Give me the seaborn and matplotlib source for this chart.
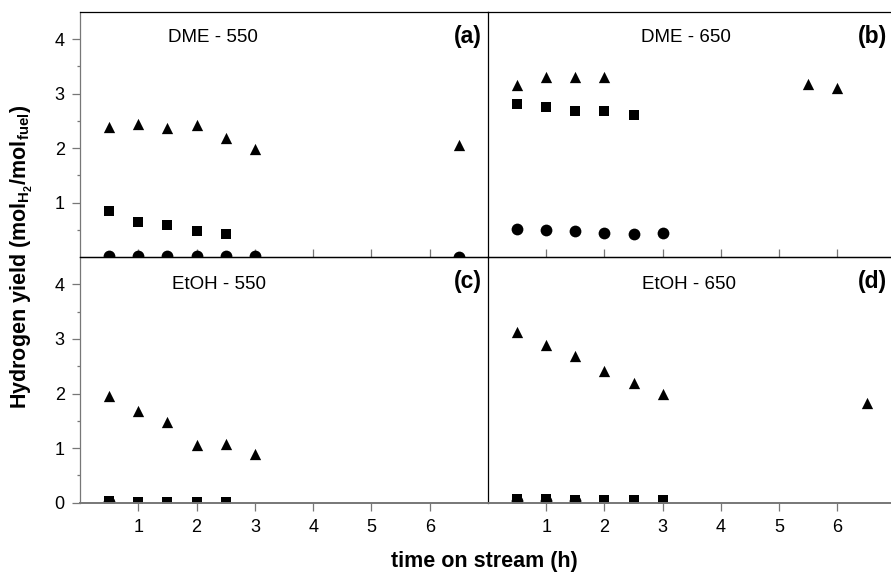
import matplotlib
matplotlib.use("Agg")
import matplotlib.pyplot as plt
import seaborn as sns
import pandas as pd

# panel (a) DME - 550
a_time_tri = [0.5, 1, 1.5, 2, 2.5, 3, 6.5]
a_tri = [2.38, 2.44, 2.37, 2.42, 2.18, 1.99, 2.06]
a_time_sq = [0.5, 1, 1.5, 2, 2.5]
a_sq = [0.84, 0.64, 0.58, 0.48, 0.43]
a_time_ci = [0.5, 1, 1.5, 2, 2.5, 3, 6.5]
a_ci = [0.01, 0.01, 0.01, 0.01, 0.01, 0.01, 0.0]

# panel (b) DME - 650
b_time_tri = [0.5, 1, 1.5, 2, 5.5, 6]
b_tri = [3.16, 3.30, 3.30, 3.30, 3.18, 3.10]
b_time_sq = [0.5, 1, 1.5, 2, 2.5]
b_sq = [2.81, 2.76, 2.69, 2.68, 2.60]
b_time_ci = [0.5, 1, 1.5, 2, 2.5, 3]
b_ci = [0.52, 0.50, 0.48, 0.45, 0.43, 0.44]

# panel (c) EtOH - 550
c_time_tri = [0.5, 1, 1.5, 2, 2.5, 3]
c_tri = [1.95, 1.68, 1.47, 1.06, 1.07, 0.90]
c_time_sq = [0.5, 1, 1.5, 2, 2.5]
c_sq = [0.03, 0.02, 0.02, 0.02, 0.02]
c_time_ci = [0.5]
c_ci = [0.02]

# panel (d) EtOH - 650
d_time_tri = [0.5, 1, 1.5, 2, 2.5, 3, 6.5]
d_tri = [3.13, 2.89, 2.69, 2.42, 2.20, 1.99, 1.83]
d_time_sq = [0.5, 1, 1.5, 2, 2.5, 3]
d_sq = [0.07, 0.06, 0.05, 0.05, 0.05, 0.05]
d_time_ci = [0.5, 1, 1.5]
d_ci = [0.04, 0.03, 0.03]

panel_names = ["DME - 550", "DME - 650", "EtOH - 550", "EtOH - 650"]
panel_tags = ["(a)", "(b)", "(c)", "(d)"]

rows = []
for name, series in zip(panel_names, [
        (a_time_tri, a_tri, a_time_sq, a_sq, a_time_ci, a_ci),
        (b_time_tri, b_tri, b_time_sq, b_sq, b_time_ci, b_ci),
        (c_time_tri, c_tri, c_time_sq, c_sq, c_time_ci, c_ci),
        (d_time_tri, d_tri, d_time_sq, d_sq, d_time_ci, d_ci)]):
    for kind, (xs, ys) in zip(["tri", "sq", "ci"],
                              [(series[0], series[1]), (series[2], series[3]), (series[4], series[5])]):
        for x, y in zip(xs, ys):
            rows.append({"panel": name, "kind": kind, "time": x, "yield": y})
df = pd.DataFrame(rows)

sns.set_style("ticks")
plt.rcParams["font.family"] = ["Liberation Sans", "DejaVu Sans"]
plt.rcParams["mathtext.fontset"] = "custom"
plt.rcParams["mathtext.rm"] = "Liberation Sans"
plt.rcParams["mathtext.bf"] = "Liberation Sans:bold"
plt.rcParams["text.color"] = "black"
plt.rcParams["xtick.labelcolor"] = "black"
plt.rcParams["ytick.labelcolor"] = "black"

fig = plt.figure(figsize=(8.91, 5.74), dpi=100)
L, M, R = 80 / 891, 488 / 891, 1.0
B, H, T = 1 - 502.7 / 574, 1 - 257 / 574, 1 - 12 / 574
boxes = [(L, H, M - L, T - H), (M, H, R - M, T - H),
         (L, B, M - L, H - B), (M, B, R - M, H - B)]
text_pos = [(2.28, 4.03), (3.40, 4.03), (2.39, 4.0), (3.46, 4.0)]
grey = "#777777"

markers = {"tri": "^", "sq": "s", "ci": "o"}
sizes = {"tri": 66, "sq": 55, "ci": 72}

for i, (name, box) in enumerate(zip(panel_names, boxes)):
    ax = fig.add_axes(box)
    ax.patch.set_alpha(0)
    sub = df[df["panel"] == name]
    for kind in ["ci", "sq", "tri"]:
        part = sub[sub["kind"] == kind]
        sns.scatterplot(data=part, x="time", y="yield", marker=markers[kind],
                        color="black", s=sizes[kind], linewidth=0, legend=False, ax=ax)
    right = i % 2 == 1
    top = i < 2
    ax.set_xlim(0, 6.92 if right else 7)
    ax.set_ylim(0, 4.5)
    ax.set_xlabel("")
    ax.set_ylabel("")
    for s in ax.spines.values():
        s.set_linewidth(0.9)
    ax.spines["right"].set_visible(False)
    ax.spines["top"].set_color("black")
    if right:
        ax.spines["left"].set_color("black")
        ax.set_yticks([])
    else:
        ax.spines["left"].set_color(grey)
        ax.set_yticks([1, 2, 3, 4] if top else [0, 1, 2, 3, 4])
        ax.set_yticks([0.5, 1.5, 2.5, 3.5], minor=True)
        ax.tick_params(axis="y", which="major", length=6, width=0.9, color=grey,
                       labelsize=13, pad=5)
        ax.tick_params(axis="y", which="minor", length=2.5, width=0.9, color=grey)
    ax.set_xticks([1, 2, 3, 4, 5, 6])
    if top:
        ax.spines["bottom"].set_color("black")
        ax.tick_params(axis="x", direction="in", length=6, width=0.9, color=grey,
                       labelbottom=False)
    else:
        ax.spines["bottom"].set_color(grey)
        ax.spines["bottom"].set_linewidth(1.4)
        ax.tick_params(axis="x", direction="out", length=6, width=0.9, color=grey,
                       labelsize=13, pad=6)
    ax.text(text_pos[i][0], text_pos[i][1], name, ha="center", va="center",
            fontsize=13.5, color="black")
    ax.text(0.99 if right else 0.985, 0.90, panel_tags[i], transform=ax.transAxes,
            ha="right", va="center", fontsize=16.5, fontweight="bold", color="black")

fig.text(22 / 891, 1 - 257 / 574,
         r"Hydrogen yield (mol$_{\mathbf{H_2}}$/mol$_{\mathbf{fuel}}$)",
         rotation=90, ha="center", va="center", fontsize=15.5, fontweight="bold")
fig.text(484 / 891, 1 - 562 / 574, "time on stream (h)",
         ha="center", va="center", fontsize=15.5, fontweight="bold")

fig.savefig("out.png", dpi=100)
